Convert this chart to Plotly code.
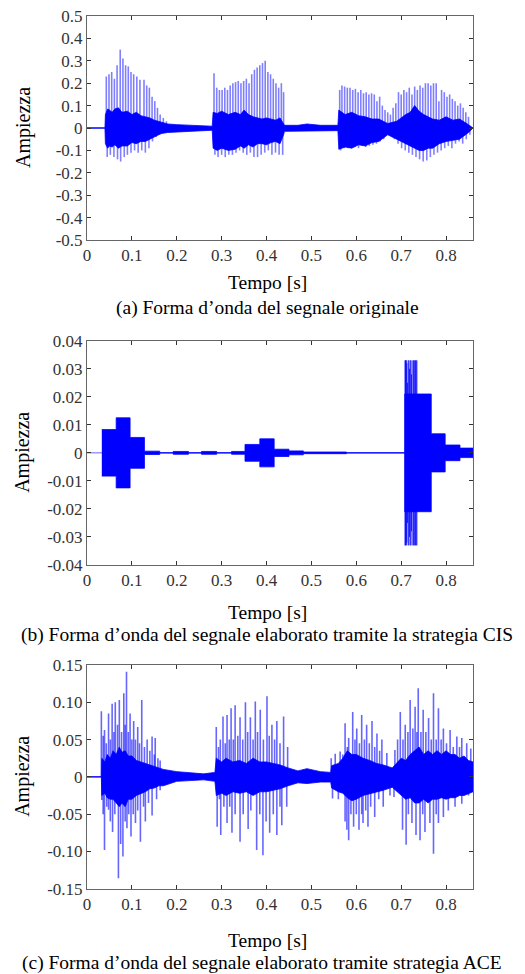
import plotly.graph_objects as go

# ---------------- data ----------------
X_TICKS = [0, 0.1, 0.2, 0.3, 0.4, 0.5, 0.6, 0.7, 0.8]
X_TICKTEXT = ["0", "0.1", "0.2", "0.3", "0.4", "0.5", "0.6", "0.7", "0.8"]
X_MAX = 0.86

YA_TICKS = [0.5, 0.4, 0.3, 0.2, 0.1, 0, -0.1, -0.2, -0.3, -0.4, -0.5]
YA_TICKTEXT = ["0.5", "0.4", "0.3", "0.2", "0.1", "0", "-0.1", "-0.2", "-0.3", "-0.4", "-0.5"]
YB_TICKS = [0.04, 0.03, 0.02, 0.01, 0, -0.01, -0.02, -0.03, -0.04]
YB_TICKTEXT = ["0.04", "0.03", "0.02", "0.01", "0", "-0.01", "-0.02", "-0.03", "-0.04"]
YC_TICKS = [0.15, 0.10, 0.05, 0, -0.05, -0.10, -0.15]
YC_TICKTEXT = ["0.15", "0.10", "0.05", "0", "-0.05", "-0.10", "-0.15"]

# (a) original signal: dense core envelope
a_core_t = [0.000, 0.040, 0.041, 0.046, 0.050, 0.056, 0.062, 0.070, 0.078, 0.090, 0.100, 0.110,
            0.120, 0.130, 0.140, 0.150, 0.165, 0.180, 0.200,
            0.230, 0.260, 0.279, 0.281, 0.290, 0.300, 0.315, 0.330, 0.342, 0.350, 0.360, 0.370,
            0.380, 0.390, 0.400, 0.410, 0.420, 0.430, 0.438,
            0.440, 0.470, 0.490, 0.520, 0.550, 0.559, 0.561, 0.575, 0.590, 0.605, 0.620, 0.635,
            0.650, 0.670, 0.690, 0.700, 0.710, 0.720, 0.730, 0.740, 0.750, 0.760, 0.770, 0.785,
            0.800, 0.815, 0.830, 0.850, 0.860]
a_core_hi = [0, 0, 0.06, 0.085, 0.08, 0.07, 0.085, 0.09, 0.07, 0.075, 0.06, 0.07,
             0.055, 0.05, 0.045, 0.035, 0.025, 0.018, 0.015,
             0.012, 0.010, 0.008, 0.07, 0.065, 0.075, 0.06, 0.07, 0.06, 0.08, 0.06, 0.05,
             0.045, 0.04, 0.045, 0.04, 0.035, 0.045, 0.02,
             0.012, 0.012, 0.018, 0.012, 0.010, 0.012, 0.08, 0.06, 0.07, 0.055, 0.05, 0.04,
             0.04, 0.02, 0.03, 0.045, 0.06, 0.07, 0.10, 0.075, 0.06, 0.05, 0.04, 0.035,
             0.05, 0.035, 0.04, 0.015, 0]
a_core_lo = [0, 0, -0.07, -0.09, -0.08, -0.085, -0.075, -0.09, -0.08, -0.08, -0.065, -0.07,
             -0.06, -0.06, -0.05, -0.04, -0.025, -0.02, -0.015,
             -0.014, -0.012, -0.010, -0.09, -0.10, -0.09, -0.10, -0.095, -0.08, -0.09, -0.075, -0.085,
             -0.07, -0.07, -0.075, -0.065, -0.06, -0.07, -0.03,
             -0.015, -0.014, -0.016, -0.013, -0.012, -0.012, -0.095, -0.085, -0.09, -0.075, -0.08, -0.065,
             -0.06, -0.03, -0.05, -0.06, -0.07, -0.08, -0.09, -0.10, -0.10, -0.09, -0.09, -0.07,
             -0.06, -0.055, -0.05, -0.02, 0]
# (a) pitch-pulse spikes
a_top_t = [0.043, 0.049, 0.055, 0.061, 0.067, 0.074, 0.080, 0.086, 0.092, 0.098, 0.104, 0.111,
           0.118, 0.127, 0.133, 0.139, 0.145, 0.151, 0.157, 0.163, 0.170, 0.177,
           0.283, 0.289, 0.295, 0.301, 0.307, 0.313, 0.319, 0.325, 0.331, 0.337, 0.343, 0.349,
           0.355, 0.361, 0.367, 0.373, 0.379, 0.385, 0.391, 0.397, 0.403, 0.409, 0.415, 0.421,
           0.427, 0.433, 0.438,
           0.563, 0.568, 0.574, 0.580, 0.586, 0.592, 0.598, 0.604, 0.610, 0.616, 0.622, 0.628,
           0.634, 0.640, 0.646, 0.652, 0.658, 0.664, 0.670, 0.676, 0.682, 0.688, 0.694, 0.700,
           0.706, 0.712, 0.718, 0.724, 0.730, 0.736, 0.742, 0.748, 0.754, 0.760, 0.766, 0.772,
           0.778, 0.784, 0.790, 0.796, 0.802, 0.808, 0.814, 0.820, 0.826, 0.832, 0.838, 0.844, 0.850]
a_top_v = [0.23, 0.24, 0.25, 0.22, 0.28, 0.35, 0.31, 0.28, 0.275, 0.25, 0.24, 0.23,
           0.215, 0.215, 0.19, 0.18, 0.14, 0.12, 0.09, 0.06, 0.045, 0.03,
           0.245, 0.18, 0.17, 0.17, 0.18, 0.17, 0.19, 0.20, 0.205, 0.21, 0.20, 0.21,
           0.22, 0.20, 0.24, 0.26, 0.27, 0.28, 0.29, 0.30, 0.25, 0.24, 0.22, 0.20,
           0.18, 0.20, 0.16,
           0.17, 0.19, 0.185, 0.18, 0.18, 0.17, 0.175, 0.16, 0.17, 0.155, 0.16, 0.15,
           0.155, 0.15, 0.12, 0.14, 0.10, 0.08, 0.07, 0.06, 0.09, 0.11, 0.16, 0.15,
           0.17, 0.16, 0.18, 0.15, 0.185, 0.17, 0.19, 0.18, 0.20, 0.20, 0.19, 0.20,
           0.20, 0.12, 0.17, 0.16, 0.14, 0.15, 0.13, 0.12, 0.10, 0.11, 0.09, 0.07, 0.05]
a_bot_t = [0.045, 0.052, 0.060, 0.068, 0.075, 0.083, 0.090, 0.098, 0.106, 0.114, 0.122, 0.130,
           0.138, 0.146, 0.154, 0.162,
           0.285, 0.292, 0.300, 0.308, 0.316, 0.324, 0.332, 0.340, 0.348, 0.356, 0.364, 0.372,
           0.380, 0.388, 0.396, 0.404, 0.412, 0.420, 0.428, 0.436,
           0.565, 0.573, 0.581, 0.589, 0.597, 0.605, 0.613, 0.621, 0.629, 0.637, 0.645, 0.653,
           0.661, 0.669, 0.677, 0.685, 0.693, 0.701, 0.709, 0.717, 0.725, 0.733, 0.741, 0.749,
           0.757, 0.765, 0.773, 0.781, 0.789, 0.797, 0.805, 0.813, 0.821, 0.829, 0.837, 0.845, 0.853]
a_bot_v = [-0.13, -0.12, -0.13, -0.14, -0.15, -0.13, -0.12, -0.11, -0.10, -0.11, -0.10, -0.11,
           -0.09, -0.06, -0.04, -0.03,
           -0.12, -0.13, -0.12, -0.13, -0.12, -0.12, -0.11, -0.10, -0.11, -0.12, -0.11, -0.13,
           -0.13, -0.12, -0.11, -0.10, -0.12, -0.11, -0.12, -0.12,
           -0.10, -0.09, -0.09, -0.09, -0.085, -0.09, -0.08, -0.085, -0.08, -0.075, -0.07, -0.06,
           -0.05, -0.03, -0.03, -0.05, -0.07, -0.09, -0.10, -0.11, -0.12, -0.13, -0.14, -0.15,
           -0.145, -0.13, -0.12, -0.11, -0.10, -0.09, -0.08, -0.09, -0.07, -0.06, -0.07, -0.05, -0.03]

# (b) CIS: block amplitudes between frame edges
b_edges = [0.033, 0.065, 0.096, 0.128, 0.162, 0.192, 0.226, 0.255, 0.289, 0.322, 0.352,
           0.385, 0.417, 0.450, 0.482, 0.578, 0.708, 0.736, 0.767, 0.798, 0.831, 0.860]
b_amps = [0.0083, 0.0125, 0.0055, 0.0006, 0.0, 0.0005, 0.0, 0.0005, 0.0, 0.0005,
          0.0030, 0.0050, 0.0013, 0.0007, 0.0003, 0.0, 0.021, 0.021, 0.0068, 0.0028, 0.0017]
b_spk_t = [0.7085, 0.7095, 0.7105, 0.7115, 0.7125, 0.7140, 0.7155, 0.7170, 0.7185, 0.7200,
           0.7215, 0.7230, 0.7245, 0.7260, 0.7275, 0.7290, 0.7305, 0.7320, 0.7335, 0.7350]
b_spk_v = [0.033, 0.033, 0.033, 0.033, 0.032, 0.025, 0.033, 0.033, 0.030, 0.033,
           0.033, 0.028, 0.033, 0.020, 0.033, 0.033, 0.033, 0.033, 0.033, 0.033]

# (c) ACE
c_core_t = [0.000, 0.032, 0.033, 0.040, 0.045, 0.052, 0.058, 0.065, 0.072, 0.078, 0.085, 0.092,
            0.100, 0.110, 0.120, 0.130, 0.140, 0.150, 0.160, 0.170, 0.200,
            0.230, 0.260, 0.285, 0.288, 0.300, 0.310, 0.325, 0.340, 0.355, 0.370, 0.385, 0.400,
            0.415, 0.430, 0.448, 0.470, 0.490,
            0.520, 0.543, 0.545, 0.560, 0.570, 0.580, 0.590, 0.600, 0.615, 0.630, 0.645, 0.660,
            0.680, 0.700, 0.710, 0.720, 0.730, 0.740, 0.750, 0.760, 0.770, 0.780, 0.790, 0.800,
            0.810, 0.820, 0.830, 0.840, 0.850, 0.860]
c_core_hi = [0, 0, 0.025, 0.02, 0.03, 0.025, 0.035, 0.03, 0.04, 0.033, 0.035, 0.028,
             0.028, 0.022, 0.02, 0.018, 0.016, 0.014, 0.012, 0.010, 0.007,
             0.006, 0.004, 0.006, 0.025, 0.02, 0.025, 0.02, 0.022, 0.018, 0.025, 0.02, 0.02,
             0.018, 0.016, 0.012, 0.008, 0.011,
             0.007, 0.006, 0.015, 0.018, 0.025, 0.035, 0.03, 0.03, 0.025, 0.022, 0.018, 0.016,
             0.012, 0.025, 0.022, 0.03, 0.035, 0.04, 0.03, 0.035, 0.03, 0.035, 0.03, 0.035,
             0.03, 0.03, 0.025, 0.028, 0.022, 0.02]
c_core_lo = [0, 0, -0.025, -0.022, -0.028, -0.03, -0.03, -0.035, -0.04, -0.035, -0.04, -0.03,
             -0.03, -0.025, -0.022, -0.02, -0.016, -0.015, -0.012, -0.012, -0.006,
             -0.005, -0.004, -0.006, -0.025, -0.022, -0.025, -0.02, -0.022, -0.02, -0.025, -0.02, -0.02,
             -0.018, -0.016, -0.012, -0.008, -0.009,
             -0.007, -0.007, -0.015, -0.02, -0.022, -0.028, -0.032, -0.03, -0.025, -0.022, -0.02, -0.018,
             -0.014, -0.025, -0.03, -0.028, -0.035, -0.035, -0.03, -0.035, -0.03, -0.03, -0.028, -0.03,
             -0.028, -0.028, -0.025, -0.025, -0.022, -0.02]
c_top_t = [0.032, 0.036, 0.039, 0.043, 0.048, 0.052, 0.056, 0.060, 0.063, 0.068, 0.072, 0.077,
           0.082, 0.085, 0.088, 0.092, 0.096, 0.100, 0.104, 0.108, 0.113, 0.117, 0.122, 0.128,
           0.134, 0.140, 0.145, 0.150, 0.152, 0.158, 0.163,
           0.288, 0.293, 0.297, 0.303, 0.308, 0.312, 0.317, 0.321, 0.326, 0.330, 0.336, 0.341,
           0.347, 0.353, 0.358, 0.364, 0.370, 0.375, 0.380, 0.386, 0.393, 0.401, 0.406, 0.412,
           0.418, 0.423, 0.430, 0.438, 0.447,
           0.544, 0.553, 0.564, 0.570, 0.575, 0.580, 0.583, 0.592, 0.597, 0.601, 0.607, 0.612,
           0.618, 0.623, 0.629, 0.635, 0.641, 0.646, 0.652, 0.657, 0.668, 0.686, 0.692, 0.698,
           0.704, 0.709, 0.715, 0.720, 0.726, 0.731, 0.735, 0.738, 0.744, 0.749, 0.755, 0.761,
           0.767, 0.772, 0.778, 0.783, 0.789, 0.794, 0.801, 0.809, 0.816, 0.824, 0.830, 0.835,
           0.846, 0.855]
c_top_v = [0.088, 0.055, 0.063, 0.045, 0.085, 0.05, 0.098, 0.06, 0.10, 0.07, 0.103, 0.06,
           0.112, 0.07, 0.141, 0.06, 0.085, 0.05, 0.075, 0.05, 0.067, 0.045, 0.103, 0.04,
           0.05, 0.035, 0.054, 0.03, 0.052, 0.025, 0.022,
           0.067, 0.04, 0.05, 0.081, 0.045, 0.083, 0.05, 0.092, 0.05, 0.096, 0.055, 0.08,
           0.05, 0.10, 0.06, 0.08, 0.05, 0.101, 0.06, 0.09, 0.05, 0.108, 0.055, 0.07,
           0.05, 0.075, 0.045, 0.081, 0.04,
           0.025, 0.031, 0.034, 0.03, 0.072, 0.04, 0.052, 0.087, 0.05, 0.065, 0.045, 0.083,
           0.05, 0.07, 0.045, 0.075, 0.04, 0.058, 0.035, 0.05, 0.032, 0.036, 0.05, 0.087,
           0.05, 0.07, 0.06, 0.103, 0.065, 0.094, 0.06, 0.119, 0.06, 0.09, 0.06, 0.079,
           0.05, 0.112, 0.05, 0.092, 0.05, 0.065, 0.045, 0.063, 0.04, 0.054, 0.04, 0.052,
           0.045, 0.038]
c_bot_t = [0.033, 0.036, 0.039, 0.044, 0.048, 0.052, 0.057, 0.062, 0.070, 0.075, 0.080, 0.085,
           0.089, 0.093, 0.098, 0.103, 0.108, 0.113, 0.119, 0.126, 0.130, 0.137, 0.145, 0.155, 0.163,
           0.290, 0.295, 0.298, 0.305, 0.312, 0.318, 0.323, 0.330, 0.341, 0.348, 0.359, 0.365,
           0.378, 0.385, 0.392, 0.399, 0.407, 0.415, 0.423, 0.430, 0.434, 0.445,
           0.547, 0.560, 0.575, 0.579, 0.583, 0.588, 0.594, 0.600, 0.606, 0.612, 0.615, 0.621,
           0.626, 0.632, 0.641, 0.650, 0.660, 0.675, 0.684, 0.703, 0.711, 0.716, 0.724, 0.733,
           0.742, 0.748, 0.753, 0.764, 0.772, 0.778, 0.783, 0.794, 0.805, 0.820, 0.835, 0.850]
c_bot_v = [-0.031, -0.05, -0.098, -0.04, -0.044, -0.06, -0.074, -0.05, -0.136, -0.09, -0.107, -0.06,
           -0.069, -0.05, -0.08, -0.05, -0.062, -0.045, -0.087, -0.04, -0.06, -0.035, -0.052, -0.03, -0.018,
           -0.067, -0.03, -0.078, -0.04, -0.062, -0.04, -0.075, -0.05, -0.087, -0.05, -0.07, -0.045,
           -0.098, -0.05, -0.105, -0.06, -0.075, -0.05, -0.078, -0.04, -0.065, -0.04,
           -0.029, -0.03, -0.06, -0.071, -0.085, -0.05, -0.067, -0.05, -0.071, -0.05, -0.062, -0.045,
           -0.067, -0.04, -0.054, -0.03, -0.04, -0.025, -0.027, -0.071, -0.091, -0.05, -0.062, -0.078,
           -0.085, -0.05, -0.074, -0.062, -0.103, -0.05, -0.062, -0.054, -0.045, -0.04, -0.036, -0.025]

CAPTIONS = ["(a) Forma d\u2019onda del segnale originale",
            "(b) Forma d\u2019onda del segnale elaborato tramite la strategia CIS",
            "(c) Forma d\u2019onda del segnale elaborato tramite strategia ACE"]
X_TITLE = "Tempo [s]"
Y_TITLE = "Ampiezza"

# ---------------- layout geometry (page pixels) ----------------
BODY = 8                      # default page body margin around the plot div
W, H = 525 - BODY, 974 - BODY
L, R = 87, 473                 # page x of plot-area left / right
panels_px = [(16, 240), (340.7, 565), (665, 888.7)]   # page y of top, bottom of each plot area
xtitle_px = [283, 612, 940]
caption_px = [308, 635, 963]

BLUE = "#0000FF"
FONT = "Times New Roman, Liberation Serif, serif"


def py2paper(py):
    return 1 - (py - BODY) / H


def px2paper(px):
    return (px - L) / (R - L)


def spikes(ts, vs):
    xs, ys = [], []
    for t, v in zip(ts, vs):
        xs += [t, t, None]
        ys += [0, v, None]
    return xs, ys


def sym_spikes(ts, vs):
    xs, ys = [], []
    for t, v in zip(ts, vs):
        xs += [t, t, None]
        ys += [-v, v, None]
    return xs, ys


def envelope(ts, hi, lo):
    return list(ts) + list(reversed(ts)), list(hi) + list(reversed(lo))


def steps(edges, amps):
    xs, ys, xl, yl = [], [], [], []
    for i, a in enumerate(amps):
        xs += [edges[i], edges[i + 1]]
        ys += [a, a]
        xl += [edges[i], edges[i + 1]]
        yl += [-a, -a]
    return xs + xl[::-1], ys + yl[::-1]


fig = go.Figure()


def add_base(n):
    fig.add_trace(go.Scatter(x=[0, X_MAX], y=[0, 0], mode="lines",
                             line=dict(color="rgba(0,0,255,0.6)", width=1),
                             xaxis=f"x{n}", yaxis=f"y{n}", hoverinfo="skip"))


def add_env(n, xs, ys):
    fig.add_trace(go.Scatter(x=xs, y=ys, mode="lines", fill="toself", fillcolor=BLUE,
                             line=dict(color=BLUE, width=0.8),
                             xaxis=f"x{n}", yaxis=f"y{n}", hoverinfo="skip"))


def add_spk(n, xs, ys, color, width):
    fig.add_trace(go.Scatter(x=xs, y=ys, mode="lines", connectgaps=False,
                             line=dict(color=color, width=width),
                             xaxis=f"x{n}", yaxis=f"y{n}", hoverinfo="skip"))


# panel a
add_base("")
add_spk("", *spikes(a_top_t, a_top_v), "rgba(0,0,255,0.5)", 1.6)
add_spk("", *spikes(a_bot_t, a_bot_v), "rgba(0,0,255,0.5)", 1.6)
add_env("", *envelope(a_core_t, a_core_hi, a_core_lo))
# panel b
add_base("2")
add_spk("2", *sym_spikes(b_spk_t, b_spk_v), "rgba(0,0,255,0.8)", 1.0)
add_env("2", *steps(b_edges, b_amps))
# panel c
add_base("3")
add_spk("3", *spikes(c_top_t, c_top_v), "rgba(0,0,255,0.6)", 1.6)
add_spk("3", *spikes(c_bot_t, c_bot_v), "rgba(0,0,255,0.6)", 1.6)
add_env("3", *envelope(c_core_t, c_core_hi, c_core_lo))

axis_common = dict(showline=True, linecolor="#666", linewidth=1, mirror="ticks",
                   ticks="inside", ticklen=4, tickcolor="#333", showgrid=False,
                   zeroline=False, automargin=False, ticklabeloverflow="allow",
                   tickfont=dict(family=FONT, size=17, color="#333"))

yticks = [(YA_TICKS, YA_TICKTEXT, [-0.5, 0.5]),
          (YB_TICKS, YB_TICKTEXT, [-0.04, 0.04]),
          (YC_TICKS, YC_TICKTEXT, [-0.15, 0.15])]

layout = dict(template="none", width=W, height=H,
              margin=dict(l=L - BODY, r=W - (R - BODY), t=0, b=0, pad=0),
              paper_bgcolor="white", plot_bgcolor="white", showlegend=False,
              font=dict(family=FONT, color="black"))
annotations = []
for i, ((top, bot), (tv, tt, rng)) in enumerate(zip(panels_px, yticks)):
    sfx = "" if i == 0 else str(i + 1)
    eps = (rng[1] - rng[0]) * 1e-4
    layout[f"xaxis{sfx}"] = dict(axis_common, range=[0, X_MAX], tickvals=X_TICKS,
                                 ticktext=X_TICKTEXT, anchor=f"y{sfx}", domain=[0, 1])
    layout[f"yaxis{sfx}"] = dict(axis_common, range=[rng[0] - eps, rng[1] + eps],
                                 tickvals=tv, ticktext=tt,
                                 anchor=f"x{sfx}", domain=[py2paper(bot), py2paper(top)])
    annotations.append(dict(text=Y_TITLE, textangle=-90, xref="paper", yref="paper",
                            x=px2paper(23), y=py2paper((top + bot) / 2), showarrow=False,
                            font=dict(family=FONT, size=20, color="black"),
                            xanchor="center", yanchor="middle"))
    annotations.append(dict(text=X_TITLE, xref="paper", yref="paper",
                            x=px2paper(267), y=py2paper(xtitle_px[i]), showarrow=False,
                            font=dict(family=FONT, size=19.5, color="black"),
                            xanchor="center", yanchor="middle"))
    annotations.append(dict(text=CAPTIONS[i], xref="paper", yref="paper",
                            x=px2paper(267 if i < 2 else 262), y=py2paper(caption_px[i]),
                            showarrow=False, font=dict(family=FONT, size=19.5, color="black"),
                            xanchor="center", yanchor="middle"))
layout["annotations"] = annotations
fig.update_layout(**layout)

fig.write_html("out.html")
